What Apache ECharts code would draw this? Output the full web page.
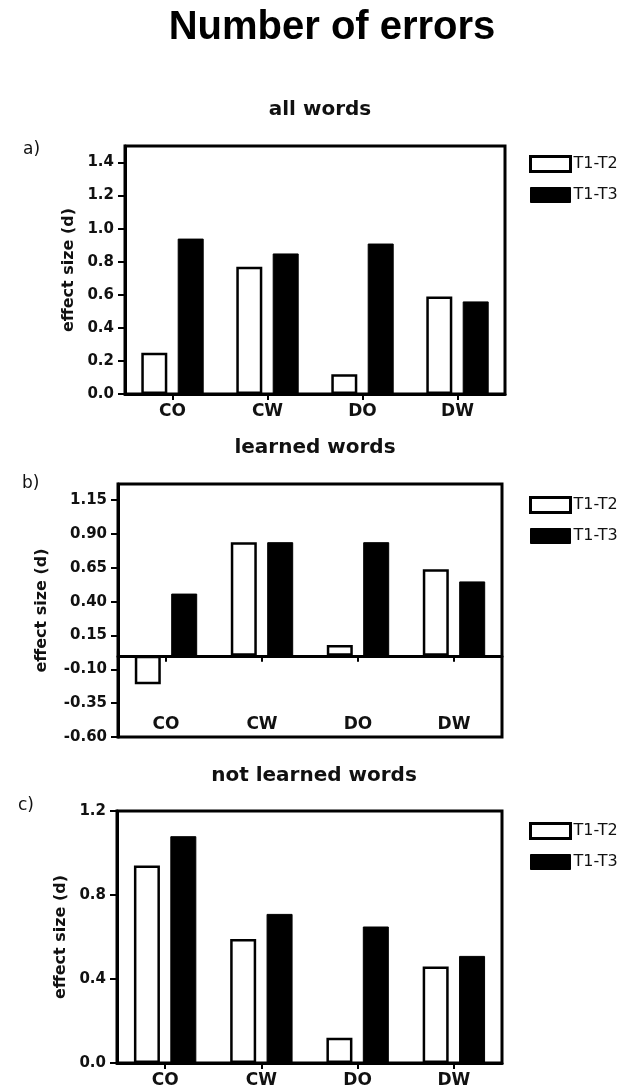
<!DOCTYPE html>
<html><head><meta charset="utf-8">
<script src="https://cdn.jsdelivr.net/npm/echarts@6/dist/echarts.min.js"></script>
<style>html,body{margin:0;padding:0;background:#fff}#c{width:626px;height:1090px}</style>
</head><body><div id="c"></div>
<script>
const categories = ['CO', 'CW', 'DO', 'DW'];
const seriesNames = ['T1-T2', 'T1-T3'];
const panelTitles = ['all words', 'learned words', 'not learned words'];
const panelLetters = ['a)', 'b)', 'c)'];
const mainTitle = 'Number of errors';
const yName = 'effect size (d)';

const allT12 = [0.25, 0.77, 0.12, 0.59];
const allT13 = [0.94, 0.85, 0.91, 0.56];
const learnedT12 = [-0.21, 0.84, 0.08, 0.64];
const learnedT13 = [0.46, 0.84, 0.84, 0.55];
const notLearnedT12 = [0.94, 0.59, 0.12, 0.46];
const notLearnedT13 = [1.08, 0.71, 0.65, 0.51];

const ticksA = [0.0, 0.2, 0.4, 0.6, 0.8, 1.0, 1.2, 1.4];
const ticksB = [-0.60, -0.35, -0.10, 0.15, 0.40, 0.65, 0.90, 1.15];
const ticksC = [0.0, 0.4, 0.8, 1.2];

const FONT = 'DejaVu Sans';
const panels = [
  { t12: allT12, t13: allT13, ticks: ticksA, dec: 1, min: 0, max: 1.5,
    grid: { left: 125, right: 121, top: 146, height: 248 }, nameGap: 47, xMargin: 9, labelsInside: false,
    titleX: 315, titleTop: 95, letterTop: 136, letterLeft: 18, legendTop: 150 },
  { t12: learnedT12, t13: learnedT13, ticks: ticksB, dec: 2, min: -0.6, max: 1.27,
    grid: { left: 118, right: 124, top: 484, height: 253 }, nameGap: 68, xMargin: 4, labelsInside: true,
    titleX: 310, titleTop: 433, letterTop: 470, letterLeft: 17, legendTop: 491 },
  { t12: notLearnedT12, t13: notLearnedT13, ticks: ticksC, dec: 1, min: 0, max: 1.2,
    grid: { left: 117, right: 124, top: 811, height: 252 }, nameGap: 47, xMargin: 9, labelsInside: false,
    titleX: 309, titleTop: 761, letterTop: 792, letterLeft: 13, legendTop: 817 }
];

const titles = [{
  text: mainTitle, left: 327, top: 3, textAlign: 'center',
  textStyle: { fontFamily: 'Liberation Sans', fontWeight: 'bold', fontSize: 40, color: '#000' }
}];
const grids = [], xAxes = [], extraX = [], yAxes = [], series = [], legends = [];
const catLabelStyle = { fontFamily: FONT, fontWeight: 'bold', fontSize: 17, color: '#111' };

panels.forEach((p, i) => {
  titles.push({ text: panelTitles[i], left: p.titleX, top: p.titleTop, textAlign: 'center',
    textStyle: { fontFamily: FONT, fontWeight: 'bold', fontSize: 20, color: '#111' } });
  titles.push({ text: panelLetters[i], left: p.letterLeft, top: p.letterTop,
    textStyle: { fontFamily: FONT, fontWeight: 'normal', fontSize: 17, color: '#111' } });
  grids.push(Object.assign({ show: true, borderColor: '#000', borderWidth: 3,
    backgroundColor: 'transparent', outerBoundsMode: 'none' }, p.grid));
  xAxes.push({
    type: 'category', gridIndex: i, data: categories, position: 'bottom',
    axisLine: { onZero: true, lineStyle: { color: '#000', width: 3 } },
    axisTick: { show: true, alignWithLabel: true, length: 6, lineStyle: { color: '#000', width: 2 } },
    axisLabel: Object.assign({ show: !p.labelsInside, margin: p.xMargin }, catLabelStyle),
    splitLine: { show: false }
  });
  if (p.labelsInside) {
    extraX.push({
      type: 'category', gridIndex: i, data: categories, position: 'bottom',
      axisLine: { show: false, onZero: false },
      axisTick: { show: false },
      axisLabel: Object.assign({ show: true, inside: true, margin: p.xMargin }, catLabelStyle),
      splitLine: { show: false }
    });
  }
  yAxes.push({
    type: 'value', gridIndex: i, min: p.min, max: p.max,
    name: yName, nameLocation: 'middle', nameGap: p.nameGap, nameRotate: 90,
    nameTextStyle: { fontFamily: FONT, fontWeight: 'bold', fontSize: 16, color: '#111' },
    axisLine: { show: true, lineStyle: { color: '#000', width: 3 } },
    axisTick: { show: true, length: 7, lineStyle: { color: '#000', width: 2 }, customValues: p.ticks },
    axisLabel: { margin: 11, fontFamily: FONT, fontWeight: 'bold', fontSize: 15, color: '#111',
      customValues: p.ticks, formatter: v => v.toFixed(p.dec) },
    splitLine: { show: false }
  });
  series.push({
    name: seriesNames[0], type: 'bar', xAxisIndex: i, yAxisIndex: i, data: p.t12,
    barWidth: 26, barGap: '40%',
    itemStyle: { color: '#fff', borderColor: '#000', borderWidth: 2.5 }
  });
  series.push({
    name: seriesNames[1], type: 'bar', xAxisIndex: i, yAxisIndex: i, data: p.t13,
    barWidth: 26, barGap: '40%',
    itemStyle: { color: '#000', borderColor: '#000', borderWidth: 1 }
  });
  legends.push({
    orient: 'vertical', left: 524, top: p.legendTop, itemWidth: 40, itemHeight: 15, itemGap: 14,
    icon: 'rect', selectedMode: false,
    textStyle: { fontFamily: FONT, fontSize: 16, color: '#111', padding: [0, 0, 0, -2] },
    data: [
      { name: seriesNames[0], itemStyle: { color: '#fff', borderColor: '#000', borderWidth: 3 } },
      { name: seriesNames[1], itemStyle: { color: '#000', borderColor: '#000', borderWidth: 1 } }
    ]
  });
});

const chart = echarts.init(document.getElementById('c'), null, { renderer: 'canvas' });
chart.setOption({
  animation: false, backgroundColor: '#fff',
  title: titles, grid: grids, xAxis: xAxes.concat(extraX), yAxis: yAxes, series: series, legend: legends
});
</script></body></html>
